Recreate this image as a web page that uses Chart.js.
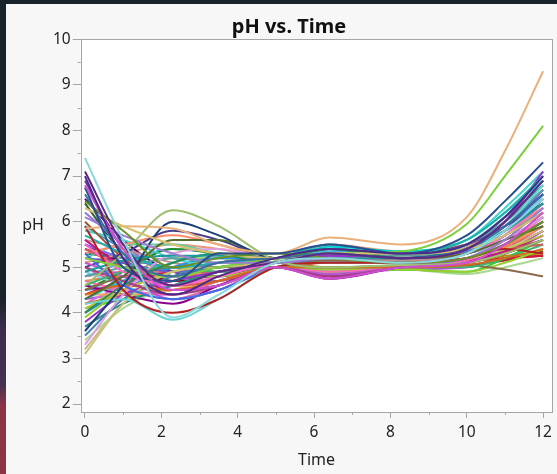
<!DOCTYPE html>
<html>
<head>
<meta charset="utf-8">
<script src="https://cdn.jsdelivr.net/npm/chart.js@4.4.0/dist/chart.umd.min.js"></script>
<style>
  html, body { margin: 0; padding: 0; width: 557px; height: 474px; overflow: hidden; background: #1b232a; }
  #edge { position: absolute; left: 0; top: 0; width: 6px; height: 474px;
          background: linear-gradient(to bottom, #1b232a 0, #1b232a 300px, #3e2d4e 330px, #46304f 385px, #8a3446 405px, #8c3545 474px); }
  #panel { position: absolute; left: 6px; top: 4px; right: 0; bottom: 0; background: #f7f7f7; }
  #chart { position: absolute; left: 0; top: 0; }
</style>
</head>
<body>
<div id="edge"></div>
<div id="panel"></div>
<canvas id="chart" width="557" height="474"></canvas>
<script>
// sample times (x) shared by every subject
const times = [0, 1, 2.3, 3.5, 5, 6.4, 8.3, 10, 11, 12];

// pH readings per subject, one row per line, same order as times
const phValues = [
  [7.4, 5.6, 3.9, 4.4, 5.1, 5.2, 5.1, 5.3, 5.8, 6.5],
  [7.1, 5.5, 4.6, 4.9, 5.1, 5.3, 5.2, 5.4, 6.0, 6.9],
  [7.0, 5.2, 4.4, 4.8, 5.2, 5.4, 5.3, 5.5, 6.1, 7.0],
  [6.8, 5.4, 4.5, 4.6, 5.0, 4.75, 5.0, 5.1, 5.5, 6.2],
  [6.75, 5.0, 4.7, 5.3, 5.3, 5.5, 5.3, 5.7, 6.45, 7.3],
  [6.6, 5.3, 4.8, 5.1, 5.2, 5.3, 5.2, 5.4, 5.9, 6.6],
  [6.45, 5.8, 5.0, 5.2, 5.3, 5.2, 5.1, 5.2, 5.5, 6.0],
  [6.3, 5.9, 5.5, 5.3, 5.2, 5.3, 5.3, 5.4, 5.7, 6.2],
  [6.1, 5.7, 5.3, 5.1, 5.1, 5.2, 5.1, 5.2, 5.6, 6.3],
  [5.85, 5.9, 5.85, 5.5, 5.3, 5.65, 5.5, 6.1, 7.55, 9.3],
  [5.2, 5.0, 4.8, 5.0, 5.2, 5.3, 5.35, 5.95, 7.0, 8.1],
  [4.6, 5.3, 6.25, 5.9, 5.15, 5.0, 5.05, 5.1, 5.3, 5.6],
  [3.6, 4.6, 6.0, 5.7, 5.2, 5.3, 5.2, 5.4, 5.9, 6.6],
  [5.9, 4.5, 4.0, 4.3, 5.0, 5.1, 5.1, 5.2, 5.4, 5.3],
  [4.2, 4.3, 3.85, 4.3, 5.0, 5.1, 5.1, 5.3, 5.9, 6.8],
  [4.9, 5.15, 5.25, 5.25, 5.2, 5.2, 5.2, 5.4, 5.8, 6.4],
  [4.3, 4.8, 5.6, 5.6, 5.2, 5.3, 5.2, 5.3, 5.6, 5.9],
  [5.5, 4.9, 4.6, 4.8, 5.1, 5.2, 5.2, 5.3, 5.7, 6.4],
  [5.3, 4.6, 4.3, 4.5, 5.0, 5.2, 5.1, 5.2, 5.5, 6.0],
  [4.0, 4.6, 5.1, 5.3, 5.2, 5.4, 5.2, 5.3, 5.7, 6.2],
  [5.0, 4.7, 4.4, 4.6, 5.0, 4.8, 5.0, 5.1, 5.3, 5.6],
  [3.1, 4.2, 4.9, 5.0, 5.1, 5.2, 5.1, 5.2, 5.4, 5.8],
  [3.3, 4.4, 5.3, 5.4, 5.2, 5.3, 5.2, 5.3, 5.6, 6.1],
  [3.5, 4.3, 4.8, 5.1, 5.2, 5.3, 5.2, 5.4, 5.8, 6.5],
  [4.4, 4.6, 4.5, 4.7, 5.0, 5.0, 5.0, 5.05, 5.2, 5.4],
  [5.7, 5.3, 5.0, 5.1, 5.2, 5.5, 5.3, 5.6, 6.2, 7.0],
  [3.8, 4.4, 4.7, 4.9, 5.1, 5.25, 5.2, 5.4, 6.0, 7.1],
  [4.1, 4.5, 4.9, 5.1, 5.2, 5.2, 5.1, 5.2, 5.4, 5.7],
  [4.8, 5.0, 5.2, 5.1, 5.1, 5.3, 5.25, 5.5, 6.0, 6.7],
  [5.4, 5.0, 4.6, 4.7, 5.0, 5.1, 5.1, 5.2, 5.4, 5.5],
  [4.6, 4.9, 5.0, 4.9, 5.0, 5.0, 5.0, 5.0, 5.2, 5.5],
  [5.1, 4.8, 4.3, 4.5, 5.0, 4.85, 5.0, 5.2, 5.6, 6.3],
  [4.5, 4.8, 5.0, 5.0, 5.1, 5.15, 5.1, 5.05, 4.95, 4.8],
  [4.3, 4.7, 5.1, 5.3, 5.2, 5.45, 5.35, 5.6, 6.2, 6.9],
  [4.7, 4.5, 4.4, 4.7, 5.0, 4.9, 5.0, 5.15, 5.5, 6.1],
  [5.2, 5.1, 4.9, 5.0, 5.1, 5.3, 5.2, 5.4, 5.9, 6.6],
  [4.4, 4.4, 4.5, 4.8, 5.1, 5.2, 5.1, 5.2, 5.5, 5.9],
  [3.7, 4.2, 4.6, 4.9, 5.1, 5.3, 5.2, 5.5, 6.1, 6.8],
  [5.6, 5.0, 4.5, 4.6, 5.0, 4.8, 5.0, 5.1, 5.35, 5.7],
  [3.9, 4.5, 4.8, 4.8, 5.0, 4.95, 4.95, 4.9, 5.1, 5.4],
  [5.0, 5.3, 5.8, 5.6, 5.2, 5.4, 5.3, 5.5, 5.9, 6.4],
  [5.3, 5.5, 5.7, 5.5, 5.2, 5.5, 5.35, 5.5, 5.8, 6.3],
  [4.9, 4.6, 4.3, 4.5, 5.0, 5.0, 5.05, 5.2, 5.7, 6.6],
  [4.6, 4.4, 4.2, 4.6, 5.0, 4.75, 5.0, 5.1, 5.4, 5.8],
  [4.2, 4.4, 4.7, 4.9, 5.1, 5.0, 5.0, 5.1, 5.25, 5.3],
  [5.2, 5.5, 5.5, 5.3, 5.2, 5.4, 5.3, 5.5, 6.0, 6.8],
  [4.4, 4.7, 4.9, 5.0, 5.1, 5.2, 5.1, 5.15, 5.2, 5.25],
  [5.5, 5.2, 5.0, 4.9, 5.1, 5.1, 5.1, 5.3, 5.8, 6.7],
  [6.0, 5.2, 4.6, 4.7, 5.0, 5.0, 5.05, 5.15, 5.35, 5.6],
  [5.8, 5.6, 5.2, 5.0, 5.1, 5.4, 5.3, 5.6, 6.3, 7.1],
  [4.8, 4.9, 4.9, 5.0, 5.1, 5.3, 5.2, 5.3, 5.6, 6.0],
  [4.5, 4.9, 5.4, 5.3, 5.1, 5.2, 5.2, 5.3, 5.6, 6.1],
  [4.0, 4.5, 5.0, 5.2, 5.2, 5.3, 5.2, 5.4, 5.9, 6.5],
  [5.6, 5.4, 5.1, 5.0, 5.1, 5.2, 5.15, 5.3, 5.7, 6.2],
  [6.2, 5.5, 4.8, 4.7, 5.0, 5.0, 5.0, 5.1, 5.3, 5.7],
  [4.1, 4.3, 4.5, 4.6, 5.0, 4.9, 4.95, 4.9, 5.2, 5.6],
  [4.7, 4.8, 4.8, 4.9, 5.1, 5.2, 5.1, 5.2, 5.45, 5.9],
  [6.5, 5.6, 4.9, 4.8, 5.1, 5.3, 5.2, 5.4, 6.0, 6.9],
  [5.1, 5.3, 5.5, 5.4, 5.2, 5.3, 5.25, 5.4, 5.8, 6.5],
  [5.3, 5.2, 5.0, 5.0, 5.1, 5.2, 5.2, 5.3, 5.6, 6.1],
  [4.2, 4.6, 4.9, 4.8, 5.0, 4.8, 5.0, 5.1, 5.3, 5.6],
  [4.6, 4.5, 4.6, 4.9, 5.1, 5.15, 5.15, 5.3, 5.7, 6.4],
  [3.4, 4.1, 4.6, 4.8, 5.0, 4.9, 4.95, 4.85, 5.0, 5.2],
  [5.5, 5.1, 4.7, 4.8, 5.0, 5.1, 5.1, 5.15, 5.2, 5.25],
  [6.9, 5.4, 4.6, 4.8, 5.1, 5.2, 5.2, 5.3, 5.7, 6.5],
  [5.9, 5.4, 4.9, 5.0, 5.1, 5.3, 5.2, 5.4, 5.9, 6.7],
  [4.0, 4.7, 5.2, 5.2, 5.1, 5.2, 5.15, 5.3, 5.7, 6.3],
  [5.0, 4.6, 4.3, 4.6, 5.0, 4.95, 5.0, 5.1, 5.4, 5.9],
  [4.5, 4.6, 4.8, 5.0, 5.1, 5.25, 5.2, 5.35, 5.8, 6.6],
  [6.4, 5.3, 4.7, 4.9, 5.1, 5.1, 5.1, 5.2, 5.5, 6.0],
  [3.2, 4.2, 5.0, 5.2, 5.2, 5.3, 5.2, 5.45, 6.0, 6.9],
  [4.8, 5.1, 5.4, 5.3, 5.2, 5.35, 5.3, 5.5, 6.1, 7.0],
  [5.4, 5.1, 4.9, 4.9, 5.0, 5.0, 5.0, 5.05, 5.15, 5.35],
  [4.3, 4.4, 4.4, 4.7, 5.0, 4.85, 4.95, 5.0, 5.3, 5.8]
];

const lineColors = [
  '#8ad8dc', '#5b2a86', '#4b2a8a', '#d04fd0', '#2b4f8f', '#3c6e9e', '#6b8e23', '#d8c070',
  '#9b7fd1', '#e9b07b', '#7ad03a', '#9cbf70', '#1f3f7a', '#b22222', '#6fd6d6', '#1a9a9a',
  '#556b2f', '#ff66cc', '#4169e1', '#2e8b57', '#a04080', '#c9c278', '#dda0dd', '#4682b4',
  '#d2691e', '#20b2aa', '#9932cc', '#c0c040', '#5f9ea0', '#cd5c5c', '#3cb371', '#ba55d3',
  '#8b6a4a', '#00ced1', '#ff69b4', '#6a5acd', '#f4a460', '#2e8b8b', '#c71585', '#9acd32',
  '#483d8b', '#ff8c69', '#87ceeb', '#8b008b', '#b8860b', '#66cdaa', '#dc143c', '#7b68ee',
  '#a0522d', '#48d1cc', '#d87093', '#228b22', '#1e90ff', '#bc8f8f', '#9370db', '#32cd32',
  '#ff7f50', '#4b0082', '#e9967a', '#008b8b', '#da70d6', '#6495ed', '#a8d890', '#800000',
  '#7030a0', '#3fa0c0', '#a0c060', '#e060a0', '#5070d0', '#306030', '#c8b888', '#40b8e0',
  '#a03030', '#b050e0'
];

const xTickValues = [0, 2, 4, 6, 8, 10, 12];
const xMinorValues = [1, 3, 5, 7, 9, 11];
const yTickValues = [2, 3, 4, 5, 6, 7, 8, 9, 10];
const yMinorValues = [2.5, 3.5, 4.5, 5.5, 6.5, 7.5, 8.5, 9.5];

const fontFamily = '"Noto Sans", "Open Sans", sans-serif';
const frameColor = '#a6a6a6';

const datasets = phValues.map((row, i) => ({
    label: 'Subject ' + (i + 1),
    data: row.map((v, j) => ({ x: times[j], y: v })),
    borderColor: lineColors[i % lineColors.length],
    borderWidth: 2,
    pointRadius: 0,
    cubicInterpolationMode: 'monotone',
    fill: false
}));

// white plot area, frame, minor ticks and the horizontal "pH" label
const plotDecor = {
    id: 'plotDecor',
    beforeDraw(chart) {
        const a = chart.chartArea;
        const ctx = chart.ctx;
        ctx.save();
        ctx.fillStyle = '#ffffff';
        ctx.fillRect(a.left, a.top, a.right - a.left, a.bottom - a.top);
        ctx.restore();
    },
    afterDraw(chart) {
        const a = chart.chartArea;
        const ctx = chart.ctx;
        const xs = chart.scales.x;
        const ys = chart.scales.y;
        ctx.save();
        ctx.strokeStyle = frameColor;
        ctx.lineWidth = 1;
        ctx.strokeRect(Math.round(a.left) + 0.5, Math.round(a.top) + 0.5,
            Math.round(a.right - a.left) - 1, Math.round(a.bottom - a.top));
        ctx.beginPath();
        xMinorValues.forEach(v => {
            const px = Math.round(xs.getPixelForValue(v)) + 0.5;
            ctx.moveTo(px, a.bottom);
            ctx.lineTo(px, a.bottom + 3);
        });
        yMinorValues.forEach(v => {
            const py = Math.round(ys.getPixelForValue(v)) + 0.5;
            ctx.moveTo(a.left - 3, py);
            ctx.lineTo(a.left, py);
        });
        ctx.stroke();
        ctx.fillStyle = '#222222';
        ctx.font = '16px ' + fontFamily;
        ctx.textAlign = 'center';
        ctx.textBaseline = 'middle';
        ctx.fillText('pH', 33, (a.top + a.bottom) / 2);
        ctx.restore();
    }
};

new Chart(document.getElementById('chart'), {
    type: 'line',
    data: { datasets: datasets },
    options: {
        responsive: false,
        animation: false,
        layout: { padding: { left: 22, right: 1, top: 0, bottom: 0 } },
        plugins: {
            legend: { display: false },
            tooltip: { enabled: false },
            title: {
                display: true,
                text: 'pH vs. Time',
                color: '#111111',
                font: { family: fontFamily, size: 20, weight: 'bold', lineHeight: 1.2 },
                padding: { top: 15, bottom: 0.3 }
            }
        },
        scales: {
            x: {
                type: 'linear',
                min: -0.112,
                max: 12.24,
                afterBuildTicks: s => { s.ticks = xTickValues.map(v => ({ value: v })); },
                afterFit: s => { s.height = 62; },
                border: { display: false },
                grid: { drawOnChartArea: false, drawTicks: true, tickLength: 6, tickColor: frameColor },
                ticks: { color: '#222222', padding: 5, maxRotation: 0, font: { family: fontFamily, size: 15.5 } },
                title: {
                    display: true,
                    text: 'Time',
                    color: '#222222',
                    font: { family: fontFamily, size: 16 },
                    padding: { top: 2, bottom: 4 }
                }
            },
            y: {
                min: 1.825,
                max: 10,
                afterBuildTicks: s => { s.ticks = yTickValues.map(v => ({ value: v })); },
                afterFit: s => { s.width = 80.7 - 22; },
                border: { display: false },
                grid: { drawOnChartArea: false, drawTicks: true, tickLength: 8, tickColor: frameColor },
                ticks: { color: '#222222', padding: 2, font: { family: fontFamily, size: 15.5 } }
            }
        }
    },
    plugins: [plotDecor]
});
</script>
</body>
</html>
